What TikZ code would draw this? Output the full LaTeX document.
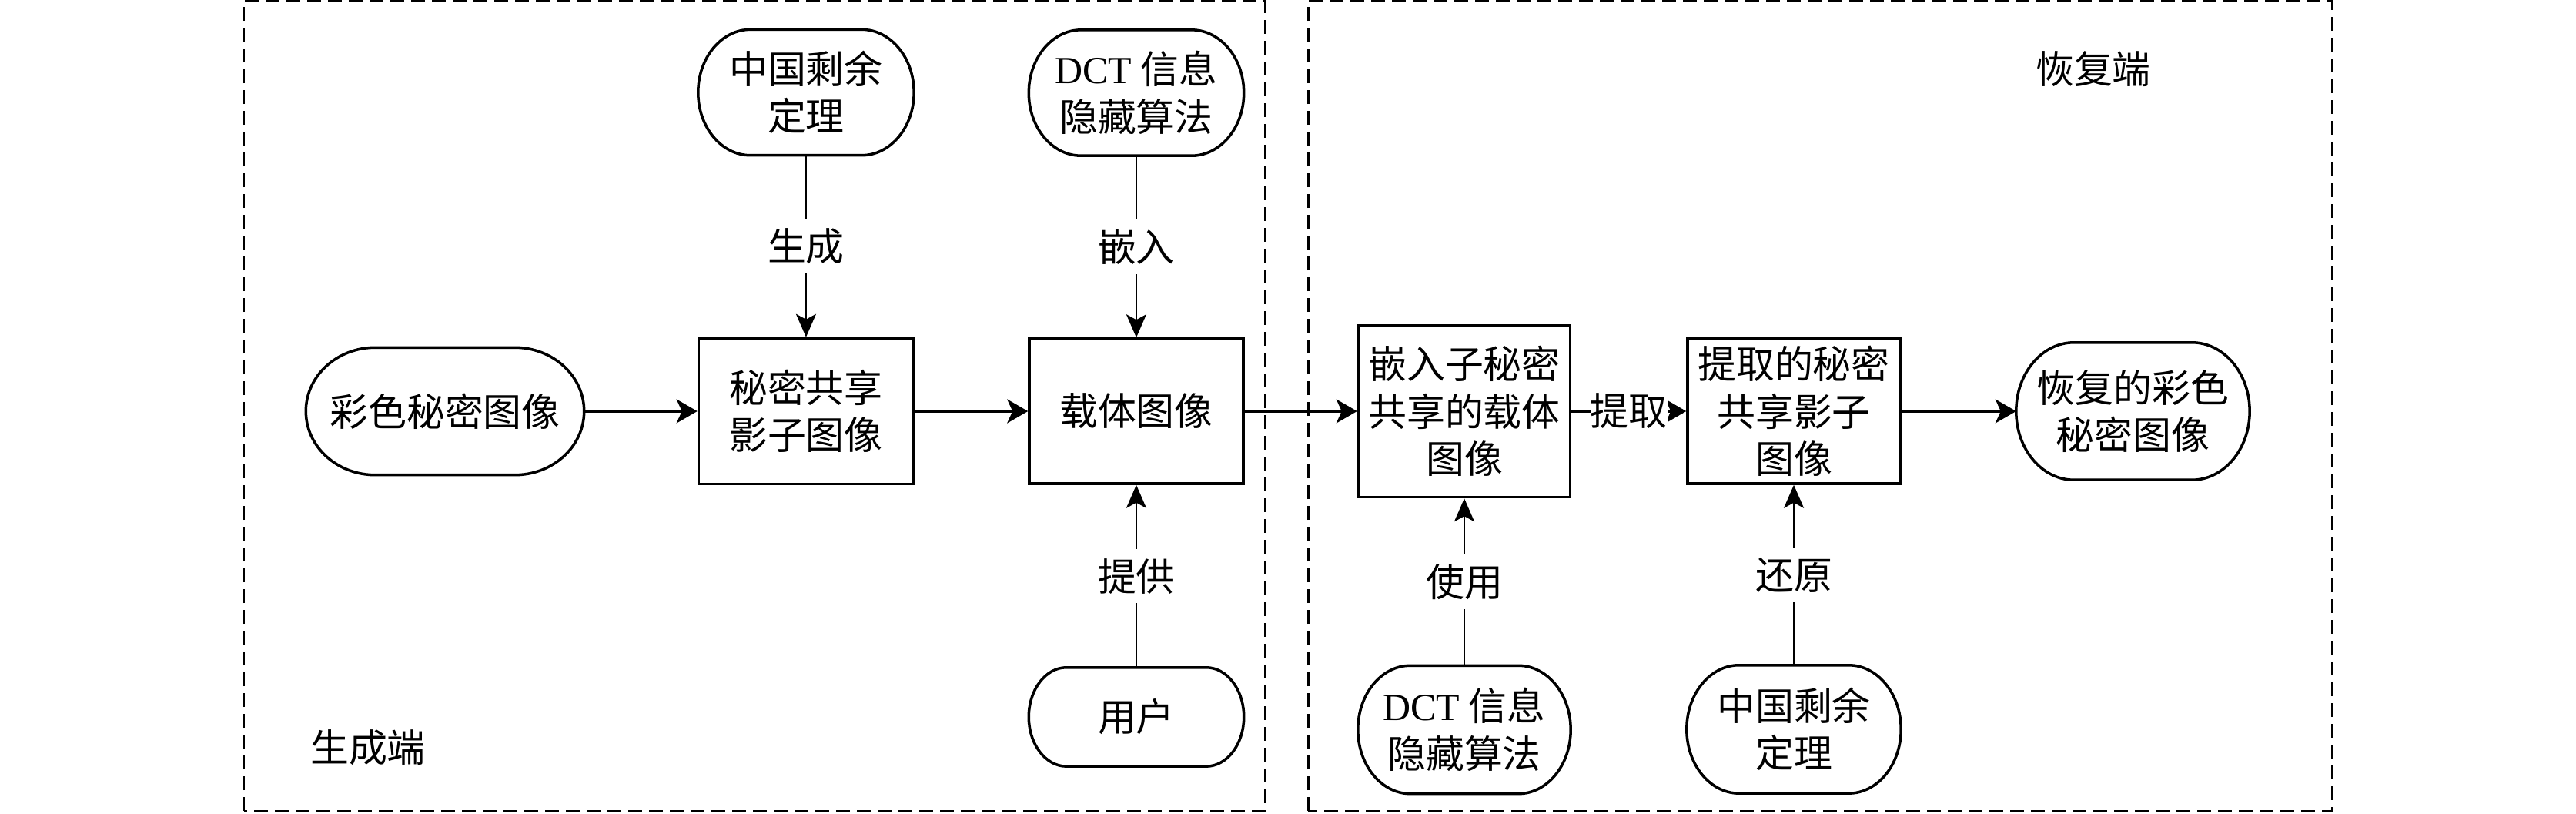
\documentclass[tikz,border=0pt]{standalone}
\usepackage{fontspec}
\setmainfont{Liberation Serif}
\newfontfamily\cjk{Noto Sans CJK SC}
\usetikzlibrary{arrows.meta,positioning,calc}

\begin{document}
\begin{tikzpicture}[
  font=\cjk\fontsize{14.2pt}{17.5pt}\selectfont,
  proc/.style={draw,line width=1pt,minimum width=2.78cm,minimum height=1.88cm,inner sep=1pt,align=center},
  term/.style={minimum width=2.78cm,minimum height=1.62cm,inner sep=1pt,align=center},
  outline/.style={line width=1pt},
  frame/.style={line width=0.85pt,dash pattern=on 0.18cm off 0.09cm},
  flow/.style={-{Stealth[length=2.7mm,width=3.1mm,inset=0.7mm]},line width=0.9pt},
  feed/.style={-{Stealth[length=3mm,width=2.6mm,inset=0.7mm]},line width=0.7pt},
  tag/.style={fill=white,inner xsep=0pt,inner ysep=3.5pt}
]
  \useasboundingbox (0,0) rectangle (33.46,10.56);
  % the two sides
  \draw[frame] (3.17,0.03) rectangle (16.43,10.55);
  \draw[frame] (16.99,0.03) rectangle (30.29,10.55);
  \node (genTitle) at (4.78,0.85) {生成端};
  \node (recTitle) at (27.19,9.66) {恢复端};

  % main row
  \node[term,minimum width=3.6cm,minimum height=1.64cm] (secret) at (5.78,5.22) {彩色秘密图像};
  \node[proc,minimum width=2.79cm,minimum height=1.89cm,right=1.47cm of secret] (share) {秘密共享\\影子图像};
  \node[proc,right=1.47cm of share] (cover) {载体图像};
  \node[proc,minimum width=2.75cm,minimum height=2.23cm,right=1.46cm of cover] (stego) {嵌入子秘密\\共享的载体\\图像};
  \node[proc,minimum width=2.76cm,right=1.49cm of stego] (extract) {提取的秘密\\共享影子\\图像};
  \node[term,minimum width=3.02cm,minimum height=1.77cm,right=1.49cm of extract] (restored) {恢复的彩色\\秘密图像};

  % inputs above and below
  \node[term,minimum width=2.79cm,above=2.36cm of share] (crtTop) {中国剩余\\定理};
  \node[term,above=2.36cm of cover] (dctTop) {{\rmfamily DCT} 信息\\隐藏算法};
  \node[term,minimum height=1.27cm,below=2.37cm of cover] (user) {用户};
  \node[term,minimum width=2.75cm,minimum height=1.65cm,below=2.17cm of stego] (dctBot) {{\rmfamily DCT} 信息\\隐藏算法};
  \node[term,minimum width=2.77cm,minimum height=1.65cm,below=2.34cm of extract] (crtBot) {中国剩余\\定理};

  % terminator outlines
  \foreach \nd/\rx in {secret/0.9,crtTop/0.68,dctTop/0.68,user/0.49,dctBot/0.68,crtBot/0.68,restored/0.75}
    \draw[outline] let \p1=($(\nd.north)-(\nd.south)$) in
      ([xshift=\rx cm]\nd.north west) -- ([xshift=-\rx cm]\nd.north east)
      arc[start angle=90,end angle=-90,x radius=\rx cm,y radius=0.5*\y1]
      -- ([xshift=\rx cm]\nd.south west)
      arc[start angle=270,end angle=90,x radius=\rx cm,y radius=0.5*\y1] -- cycle;

  % connectors
  \draw[flow] (secret) -- (share);
  \draw[flow] (share) -- (cover);
  \draw[flow] (cover) -- (stego);
  \draw[flow] (stego) -- node[tag]{提取} (extract);
  \draw[flow] (extract) -- (restored);
  \draw[feed] (crtTop) -- node[tag]{生成} (share);
  \draw[feed] (dctTop) -- node[tag]{嵌入} (cover);
  \draw[feed] (user) -- node[tag]{提供} (cover);
  \draw[feed] (dctBot) -- node[tag]{使用} (stego);
  \draw[feed] (crtBot) -- node[tag]{还原} (extract);
\end{tikzpicture}
\end{document}
